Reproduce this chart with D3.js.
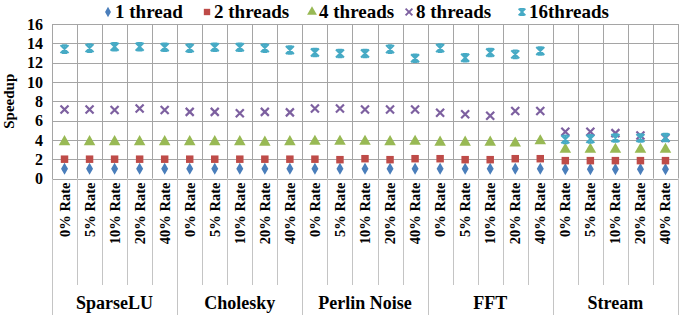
<!DOCTYPE html>
<html>
<head>
<meta charset="utf-8">
<script src="https://cdnjs.cloudflare.com/ajax/libs/d3/7.8.5/d3.min.js"></script>
<style>
  body { margin: 0; background: #fff; }
  svg text { font-family: "Liberation Serif", "Times New Roman", "DejaVu Serif", serif; font-weight: bold; fill: #000; }
</style>
</head>
<body>
<div id="chart"></div>
<script>
// groups and rates make the 25 categories
var groups = ["SparseLU", "Cholesky", "Perlin Noise", "FFT", "Stream"];
var rates = ["0% Rate", "5% Rate", "10% Rate", "20% Rate", "40% Rate"];
var yTicks = [0, 2, 4, 6, 8, 10, 12, 14, 16];

var seriesNames = ["1 thread", "2 threads", "4 threads", "8 threads", "16threads"];
var thread1 = [1.0, 1.0, 1.0, 1.0, 1.0, 1.0, 1.0, 1.0, 1.0, 1.0, 1.0, 1.0, 1.0, 1.0, 1.0, 1.0, 1.0, 1.0, 1.0, 1.0, 0.97, 0.97, 0.97, 0.97, 0.97];
var thread2 = [2.0, 2.0, 2.0, 2.0, 2.0, 2.0, 2.0, 2.0, 2.0, 2.0, 2.0, 1.95, 2.05, 1.95, 2.05, 2.05, 1.95, 1.95, 2.05, 2.05, 1.85, 1.85, 1.85, 1.85, 1.85];
var thread4 = [3.8, 3.8, 3.8, 3.8, 3.8, 3.8, 3.8, 3.8, 3.75, 3.8, 3.85, 3.85, 3.85, 3.8, 3.85, 3.75, 3.75, 3.75, 3.65, 3.9, 3.0, 3.0, 3.0, 3.0, 3.0];
var thread8 = [7.15, 7.15, 7.1, 7.25, 7.1, 6.9, 6.9, 6.75, 6.9, 6.85, 7.25, 7.25, 7.15, 7.15, 7.15, 6.8, 6.65, 6.5, 7.0, 7.0, 4.85, 4.85, 4.7, 4.45, 4.2];
var thread16 = [13.4, 13.5, 13.65, 13.65, 13.6, 13.5, 13.6, 13.6, 13.5, 13.3, 13.05, 12.95, 12.95, 13.4, 12.45, 13.5, 12.5, 13.05, 12.85, 13.2, 4.05, 4.1, 4.2, 4.2, 4.25];

var colors = ["#4a7ebb", "#be4b48", "#98b954", "#7d60a0", "#46aac5"];

var width = 684, height = 322
  , plotLeft = 52, plotRight = 678
  , plotTop = 24, plotBottom = 178.5
  , fontFam = "'Liberation Serif', 'Times New Roman', 'DejaVu Serif', serif";

var cats = [];
groups.forEach(function (g) {
  rates.forEach(function (r) { cats.push(g + "|" + r); });
});

var series = [thread1, thread2, thread4, thread8, thread16].map(function (vals, k) {
  return { name: seriesNames[k], color: colors[k], kind: k, values: vals };
});

var svg = d3.select("#chart").append("svg")
  .attr("width", width)
  .attr("height", height);

var x = d3.scaleBand().domain(cats).range([plotLeft, plotRight]).padding(0);
var y = d3.scaleLinear().domain([0, 16]).range([plotBottom, plotTop]);

// horizontal gridlines
svg.append("g")
  .selectAll("line")
  .data(yTicks)
  .enter().append("line")
    .attr("x1", plotLeft).attr("x2", plotRight)
    .attr("y1", function (d) { return Math.round(y(d)) + 0.5; })
    .attr("y2", function (d) { return Math.round(y(d)) + 0.5; })
    .style("stroke", "#a5a5a5");

// vertical gridlines inside plot, and separators below axis
var bounds = cats.map(function (c) { return x(c); }).concat([plotRight]);
svg.append("g")
  .selectAll("line")
  .data(bounds)
  .enter().append("line")
    .attr("x1", function (d) { return Math.round(d) + 0.5; })
    .attr("x2", function (d) { return Math.round(d) + 0.5; })
    .attr("y1", y(16))
    .attr("y2", y(0))
    .style("stroke", "#a5a5a5");

svg.append("g")
  .selectAll("line")
  .data(bounds)
  .enter().append("line")
    .attr("x1", function (d) { return Math.round(d) + 0.5; })
    .attr("x2", function (d) { return Math.round(d) + 0.5; })
    .attr("y1", y(0))
    .attr("y2", function (d, i) { return i % 5 === 0 ? 315 : 285; })
    .style("stroke", "#c4c4c4");

// y axis labels
var yAxis = d3.axisLeft(y).tickValues(yTicks).tickSize(0).tickPadding(9);
var gy = svg.append("g").attr("transform", "translate(" + plotLeft + ",0)").call(yAxis);
gy.select(".domain").style("stroke", "#a5a5a5");
gy.selectAll("text")
  .style("font-size", "16px")
  .style("font-family", fontFam)
  .style("font-weight", "bold")
  .style("fill", "#000");

svg.append("text")
  .attr("transform", "translate(14," + ((plotTop + plotBottom) / 2) + ") rotate(-90)")
  .attr("text-anchor", "middle")
  .style("font-size", "15px")
  .text("Speedup");

// category labels (rotated)
svg.append("g")
  .selectAll("text")
  .data(cats)
  .enter().append("text")
    .attr("transform", function (d) {
      return "translate(" + (x(d) + x.bandwidth() / 2 + 5) + "," + (plotBottom + 4) + ") rotate(-90)";
    })
    .attr("text-anchor", "end")
    .style("font-size", "14.5px")
    .text(function (d) { return d.split("|")[1]; });

// group labels
svg.append("g")
  .selectAll("text")
  .data(groups)
  .enter().append("text")
    .attr("x", function (g, i) { return x(cats[i * 5]) + x.bandwidth() * 2.5; })
    .attr("y", 309)
    .attr("text-anchor", "middle")
    .style("font-size", "18px")
    .text(function (g) { return g; });

// marker drawing, s = scale
function drawMarker(sel, kind, color, s) {
  s = s || 1;
  if (kind === 0) {
    sel.append("path").attr("d", d3.symbol().type(d3.symbolDiamond).size(42 * s * s)).style("fill", color);
  } else if (kind === 1) {
    sel.append("path").attr("d", d3.symbol().type(d3.symbolSquare).size(56 * s * s)).style("fill", color);
  } else if (kind === 2) {
    sel.append("path").attr("d", d3.symbol().type(d3.symbolTriangle).size(58 * s * s)).style("fill", color);
  } else if (kind === 3) {
    sel.append("path").attr("d", "M-4,-4L4,4M-4,4L4,-4")
      .attr("transform", "scale(" + s + ")")
      .style("stroke", color).style("stroke-width", 2.2).style("fill", "none");
  } else {
    sel.append("path").attr("d", "M-4,-4L4,4M-4,4L4,-4M0,-4L0,4M-2.5,-3.8L2.5,-3.8M-2.5,3.8L2.5,3.8")
      .attr("transform", "scale(" + s + ")")
      .style("stroke", color).style("stroke-width", 2).style("fill", "none");
  }
}

series.forEach(function (s) {
  svg.append("g")
    .selectAll("g")
    .data(s.values)
    .enter().append("g")
      .attr("transform", function (d, i) {
        return "translate(" + (x(cats[i]) + x.bandwidth() / 2) + "," + y(d) + ")";
      })
      .each(function () { drawMarker(d3.select(this), s.kind, s.color); });
});

// legend
var legendX = [108, 207, 312, 409, 522];
var legend = svg.append("g")
  .selectAll("g")
  .data(series)
  .enter().append("g")
    .attr("transform", function (d, i) { return "translate(" + legendX[i] + ",12)"; });

legend.each(function (s) { drawMarker(d3.select(this), s.kind, s.color, 0.85); });
legend.append("text")
  .attr("x", 7)
  .attr("y", 6)
  .style("font-size", "19px")
  .text(function (s) { return s.name; });
</script>
</body>
</html>
